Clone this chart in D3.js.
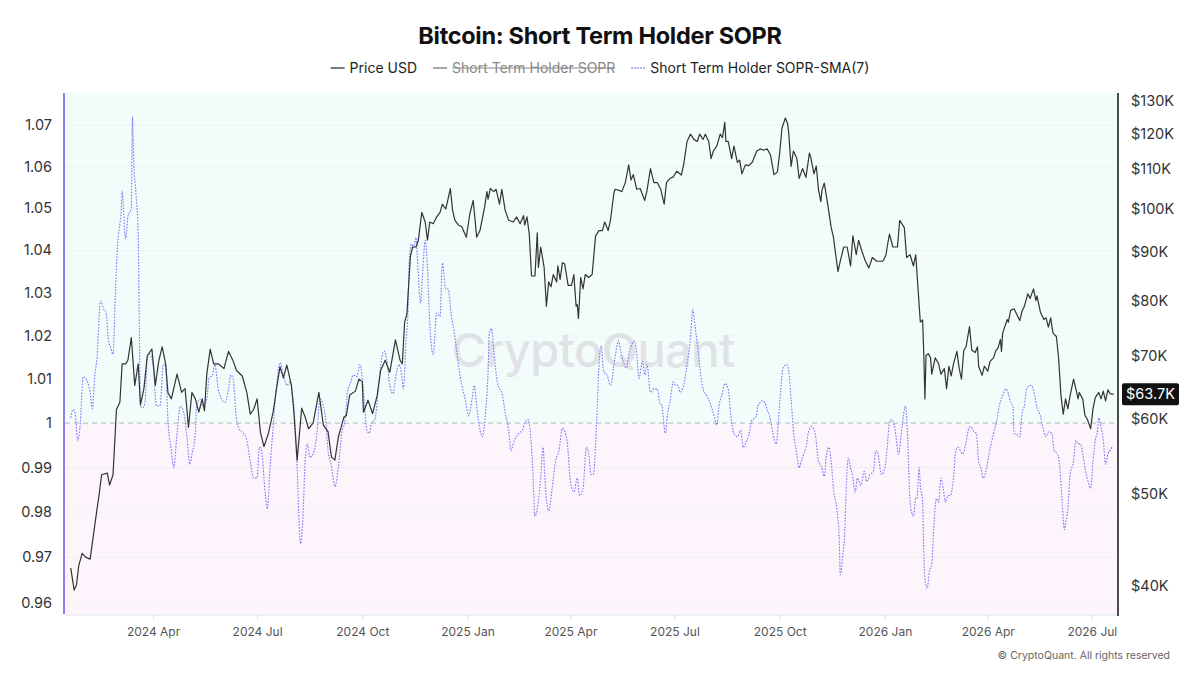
<!DOCTYPE html>
<html><head><meta charset="utf-8">
<script src="https://cdn.jsdelivr.net/npm/d3@7"></script>
<style>
html,body{margin:0;padding:0;background:#fff;}
svg{display:block;font-family:Inter,"Noto Sans",Roboto,sans-serif;}
</style></head>
<body><svg id="chart" width="1200" height="675"></svg>
<script>
// ---------------- DATA ----------------
const startDate = "2024-01-15";
const titleText = "Bitcoin: Short Term Holder SOPR";
const legendLabels = ["Price USD", "Short Term Holder SOPR", "Short Term Holder SOPR-SMA(7)"];
const leftTicks = [0.96,0.97,0.98,0.99,1.00,1.01,1.02,1.03,1.04,1.05,1.06,1.07];
const rightTicks = [40000,50000,60000,70000,80000,90000,100000,110000,120000,130000];
const xTicks = ["2024-04-01","2024-07-01","2024-10-01","2025-01-01","2025-04-01","2025-07-01","2025-10-01","2026-01-01","2026-04-01","2026-07-01"];
const lastPriceLabel = "$63.7K";

// Price USD (thousands) — day offset since startDate
const priceDays = [5,8,10,12,15,18,22,25,28,30,32,37,39,42,45,48,50,53,55,58,61,64,66,69,72,76,79,82,85,88,90,93,98,102,105,108,111,114,117,120,122,124,127,130,134,139,143,147,150,155,159,162,165,168,171,174,178,182,185,188,191,194,198,200,203,207,210,213,217,222,226,230,233,236,239,244,246,249,254,257,260,261,265,269,273,276,280,284,289,293,295,297,299,302,304,307,309,312,315,317,319,322,325,328,330,333,334,337,339,341,344,347,351,354,357,360,363,367,369,370,372,375,377,380,382,385,388,392,395,398,401,402,404,406,408,411,413,414,416,419,421,423,425,427,430,431,433,435,437,440,443,445,447,448,449,451,453,455,458,461,464,467,470,472,475,477,480,481,484,487,490,493,495,497,500,503,507,509,512,515,518,521,524,526,529,532,535,539,541,544,547,550,553,555,558,560,563,565,567,570,573,575,577,578,580,583,585,588,590,592,595,598,601,605,608,611,614,617,620,623,625,627,630,632,633,635,637,640,642,645,648,651,652,655,657,659,661,662,664,667,670,672,674,676,678,681,684,687,689,692,694,697,700,703,706,710,715,716,718,719,721,724,728,730,734,736,739,742,744,746,748,750,751,752,753,755,757,758,761,764,766,769,771,773,775,777,780,782,784,786,788,791,793,796,798,799,802,804,807,809,812,814,816,818,819,820,824,825,827,830,832,835,837,839,842,844,847,849,850,853,856,858,860,862,864,867,869,871,873,875,877,879,882,884,886,887,890,892,894,897,899,901,904,906,908,910,912,914,917];
const priceK = [41.8,39.6,40.1,42.0,43.3,42.9,42.7,45.4,48.2,50.1,52.4,52.6,51.1,52.4,61.4,62.5,68.6,68.6,69.2,73.1,65.1,68.6,62.1,64.6,70.0,71.1,65.1,69.1,71.5,68.6,64.0,63.0,66.9,64.0,64.6,58.8,64.0,63.0,61.0,63.0,61.2,66.9,71.1,68.6,68.6,67.8,70.7,69.1,67.5,66.6,64.0,60.7,61.4,63.0,58.0,56.1,58.0,61.0,64.6,68.1,66.3,68.4,65.1,61.4,54.3,61.6,60.3,58.6,59.4,64.0,59.1,58.2,54.7,54.3,57.4,60.3,60.5,63.6,64.2,66.1,65.7,61.0,62.8,60.8,63.5,67.5,69.2,67.2,72.7,69.2,68.6,75.9,77.4,88.9,91.1,91.1,92.6,99.1,96.8,92.6,96.8,96.4,98.0,99.1,101.1,99.9,101.1,105.0,99.5,97.2,96.1,95.7,93.3,98.7,102.0,93.3,94.9,100.4,104.2,102.3,105.0,104.2,104.8,101.1,104.8,99.5,97.2,96.8,98.0,96.4,98.3,96.1,98.0,94.0,84.9,84.9,94.3,86.7,91.1,86.7,78.9,83.7,82.7,85.2,83.7,87.0,84.2,87.7,87.4,83.0,83.0,85.2,78.9,79.2,76.6,84.6,82.3,85.2,84.6,85.2,93.6,94.8,94.8,96.8,94.8,97.2,103.8,104.8,104.6,104.2,106.5,111.2,107.2,108.6,104.8,105.0,102.0,104.5,110.2,106.5,106.5,104.8,101.1,106.5,107.6,108.0,109.5,108.5,111.2,117.7,119.8,118.3,117.7,119.8,118.3,119.8,117.7,112.9,115.0,116.4,119.8,118.8,123.3,117.7,117.7,112.9,116.4,111.9,112.5,108.8,111.2,111.0,111.9,115.0,115.6,115.2,115.6,113.9,108.6,109.3,114.4,121.6,124.6,122.8,119.8,110.8,115.0,113.0,107.6,110.2,107.9,114.4,113.5,108.8,110.9,104.6,101.7,104.6,106.4,101.1,95.6,93.3,89.4,85.8,88.0,91.1,91.1,87.0,93.6,89.4,92.6,90.1,88.0,86.6,88.8,88.0,88.0,88.3,89.4,91.1,94.0,91.1,91.1,97.2,95.5,88.8,89.4,87.0,89.4,82.3,75.9,76.3,70.5,63.0,70.0,70.3,69.6,66.9,69.6,68.6,66.9,67.8,64.6,68.2,66.6,68.6,70.7,67.8,66.1,70.9,71.5,75.1,70.9,70.5,71.5,68.2,66.7,68.2,67.4,69.0,69.6,70.8,71.3,72.8,70.7,73.9,76.4,75.9,78.1,78.4,77.5,76.2,78.0,78.9,81.3,80.4,82.3,80.0,80.9,77.8,76.4,76.7,75.0,76.7,73.9,73.3,69.4,63.5,60.7,63.0,61.5,63.5,66.1,64.6,63.0,64.0,63.0,60.5,60.0,58.6,61.5,63.2,64.0,63.0,64.2,62.7,64.4,63.8,63.7];

// Short Term Holder SOPR-SMA(7) — day offset since startDate
const smaDays = [5,7,9,11,13,16,19,22,24,26,28,31,34,36,38,40,42,44,46,48,49,50,51,53,54,55,58,59,60,62,64,65,66,68,70,72,74,77,80,83,86,88,90,93,95,98,101,104,107,109,111,114,115,118,121,124,126,129,131,134,137,140,143,145,147,150,153,156,159,162,165,168,170,172,174,177,179,182,185,188,191,194,197,199,201,203,206,208,210,212,214,217,220,223,226,228,230,233,236,239,242,245,247,250,252,255,258,260,262,264,266,268,271,274,277,279,282,284,287,289,292,294,296,298,300,301,303,305,307,308,311,313,315,317,319,322,325,328,330,333,335,338,341,344,347,350,353,356,358,360,363,365,368,370,371,373,375,378,380,382,385,388,390,393,397,400,402,405,407,409,411,413,416,418,420,423,426,429,432,435,439,442,445,448,450,453,456,458,460,462,465,467,469,471,474,477,481,484,486,489,491,493,496,498,500,502,505,507,509,512,515,518,520,522,525,527,529,532,534,536,538,541,544,547,549,551,553,556,558,561,564,567,570,572,575,577,580,582,585,588,591,593,595,598,601,604,606,608,610,612,614,617,619,622,624,626,628,631,633,635,637,640,642,644,646,648,650,653,656,659,662,664,666,668,670,672,675,677,678,680,682,683,685,687,689,691,693,696,699,701,704,707,709,711,714,717,719,721,723,726,729,732,735,737,739,742,744,745,747,748,750,751,752,754,756,758,760,762,764,766,768,770,772,774,777,779,781,783,785,788,790,792,795,797,799,801,803,806,808,810,812,815,817,819,821,823,825,827,829,830,833,835,837,839,841,844,846,848,850,853,855,858,860,863,865,868,870,872,874,875,877,879,882,884,886,888,890,892,894,897,899,901,903,904,906,908,910,912,914,916];
const smaValues = [1.0012,1.0031,1.0020,0.9961,0.9988,1.0106,1.0098,1.0070,1.0033,1.0106,1.0150,1.0281,1.0261,1.0253,1.0189,1.0173,1.0157,1.0293,1.0415,1.0463,1.0488,1.0541,1.0504,1.0427,1.0447,1.0480,1.0500,1.0720,1.0620,1.0537,1.0439,1.0221,1.0039,1.0035,1.0047,1.0150,1.0157,1.0134,1.0039,1.0039,1.0134,1.0134,1.0008,0.9938,0.9899,0.9977,1.0039,1.0023,0.9961,0.9907,0.9930,0.9977,1.0039,1.0055,1.0039,1.0055,1.0102,1.0110,1.0134,1.0078,1.0055,1.0047,1.0078,1.0110,1.0102,1.0008,0.9984,0.9977,0.9961,0.9914,0.9876,0.9876,0.9945,0.9938,0.9876,0.9807,0.9884,0.9992,1.0086,1.0138,1.0110,1.0086,1.0094,1.0063,1.0008,0.9899,0.9730,0.9784,0.9914,0.9953,0.9922,0.9930,0.9969,1.0055,1.0039,1.0008,0.9938,0.9903,0.9857,0.9899,0.9977,1.0008,1.0070,1.0094,1.0110,1.0106,1.0134,1.0102,1.0039,0.9984,0.9977,1.0000,1.0008,1.0078,1.0150,1.0165,1.0134,1.0086,1.0067,1.0102,1.0134,1.0118,1.0078,1.0181,1.0261,1.0374,1.0415,1.0406,1.0430,1.0390,1.0277,1.0358,1.0423,1.0358,1.0229,1.0157,1.0253,1.0245,1.0370,1.0309,1.0309,1.0245,1.0197,1.0134,1.0086,1.0055,1.0016,1.0055,1.0086,1.0039,0.9984,0.9969,1.0031,1.0118,1.0205,1.0217,1.0165,1.0094,1.0078,1.0070,1.0023,0.9984,0.9938,0.9961,0.9977,0.9984,1.0000,1.0008,0.9977,0.9899,0.9791,0.9807,0.9876,0.9945,0.9860,0.9803,0.9853,0.9914,0.9938,0.9988,0.9961,0.9868,0.9845,0.9876,0.9837,0.9853,0.9945,0.9930,0.9884,0.9884,1.0008,1.0134,1.0177,1.0118,1.0110,1.0086,1.0150,1.0189,1.0165,1.0134,1.0126,1.0157,1.0181,1.0189,1.0157,1.0102,1.0142,1.0110,1.0134,1.0070,1.0078,1.0078,1.0047,1.0039,0.9977,1.0023,1.0047,1.0094,1.0086,1.0086,1.0070,1.0086,1.0134,1.0197,1.0261,1.0221,1.0181,1.0110,1.0078,1.0063,1.0047,1.0023,0.9996,1.0039,1.0070,1.0090,1.0078,1.0023,0.9977,0.9969,0.9984,0.9945,0.9953,0.9973,1.0008,1.0012,1.0039,1.0047,1.0051,1.0047,1.0031,1.0008,0.9977,0.9953,1.0008,1.0078,1.0126,1.0134,1.0118,1.0055,0.9984,0.9930,0.9899,0.9914,0.9930,0.9945,0.9977,0.9992,0.9977,0.9914,0.9899,0.9880,0.9930,0.9945,0.9914,0.9853,0.9807,0.9746,0.9662,0.9700,0.9761,0.9837,0.9922,0.9899,0.9876,0.9845,0.9876,0.9860,0.9891,0.9868,0.9884,0.9891,0.9938,0.9930,0.9884,0.9899,0.9945,1.0000,1.0008,0.9984,0.9930,0.9992,1.0039,0.9961,0.9822,0.9791,0.9830,0.9830,0.9899,0.9860,0.9822,0.9715,0.9655,0.9632,0.9670,0.9685,0.9776,0.9830,0.9822,0.9876,0.9853,0.9822,0.9837,0.9837,0.9876,0.9938,0.9945,0.9938,0.9930,0.9957,0.9984,0.9992,0.9980,0.9977,0.9914,0.9899,0.9876,0.9899,0.9930,0.9953,0.9977,1.0008,1.0039,1.0055,1.0070,1.0078,1.0067,1.0047,1.0039,0.9977,0.9973,0.9969,1.0023,1.0039,1.0078,1.0086,1.0082,1.0063,1.0035,1.0016,0.9992,0.9969,0.9980,0.9977,0.9938,0.9930,0.9899,0.9822,0.9761,0.9776,0.9807,0.9884,0.9914,0.9961,0.9953,0.9953,0.9930,0.9899,0.9876,0.9853,0.9914,0.9961,0.9984,1.0012,0.9992,0.9961,0.9907,0.9930,0.9938,0.9949];

// ---------------- CHART ----------------
const W = 1200, H = 675;
const M = {left: 65, right: 1117, top: 93, bottom: 614};
const svg = d3.select("#chart");
const parse = d3.utcParse("%Y-%m-%d");
const t0 = parse(startDate);
const toDate = d => d3.utcDay.offset(t0, d);

const price = priceDays.map((d,i) => ({date: toDate(d), v: priceK[i]*1000}));
const sma = smaDays.map((d,i) => ({date: toDate(d), v: smaValues[i]}));

const x = d3.scaleUtc().domain([t0, d3.utcDay.offset(t0, 920)]).range([M.left, M.right]);
const yL = d3.scaleLog().domain([0.9576, 1.0778]).range([M.bottom, M.top]);
const yR = d3.scaleLog().domain([37370, 132400]).range([M.bottom, M.top]);

// backgrounds
svg.append("rect").attr("x", M.left).attr("y", M.top).attr("width", M.right-M.left)
  .attr("height", yL(1)-M.top).attr("fill", "#f2fdfb");
svg.append("rect").attr("x", M.left).attr("y", yL(1)).attr("width", M.right-M.left)
  .attr("height", M.bottom-yL(1)).attr("fill", "#fdf4fc");

// grid
svg.append("g").selectAll("line").data(leftTicks).join("line")
  .attr("x1", M.left).attr("x2", M.right)
  .attr("y1", d => yL(d)).attr("y2", d => yL(d))
  .attr("stroke", "#e6eeee").attr("stroke-width", 0.6).attr("opacity", d => d === 1 ? 0 : 1);

// watermark
svg.append("text").attr("x", 593).attr("y", 367).attr("text-anchor", "middle")
  .attr("font-size", 47).attr("font-weight", 500).attr("fill", "#dcdce2").attr("opacity", 0.8)
  .attr("letter-spacing", -0.5).text("CryptoQuant");

// dashed line at 1
svg.append("line").attr("x1", M.left).attr("x2", M.right).attr("y1", yL(1)).attr("y2", yL(1))
  .attr("stroke", "#b8b8b8").attr("stroke-width", 1).attr("stroke-dasharray", "5,4");

// left axis
const gL = svg.append("g").attr("transform", `translate(${M.left-1},0)`)
  .call(d3.axisLeft(yL).tickValues(leftTicks).tickSize(0).tickPadding(12)
    .tickFormat(d => String(+d.toFixed(2))));
gL.select(".domain").remove();
gL.selectAll("text").attr("font-size", 14.5).attr("fill", "#333").attr("font-family", "Inter, sans-serif");
svg.append("line").attr("x1", M.left-1).attr("x2", M.left-1).attr("y1", M.top).attr("y2", M.bottom)
  .attr("stroke", "#8b7cf6").attr("stroke-width", 2);

// right axis
const gR = svg.append("g").attr("transform", `translate(${M.right+1},0)`)
  .call(d3.axisRight(yR).tickValues(rightTicks).tickSize(0).tickPadding(13)
    .tickFormat(d => "$" + (d/1000) + "K"));
gR.select(".domain").remove();
gR.selectAll("text").attr("font-size", 14.5).attr("fill", "#333").attr("font-family", "Inter, sans-serif");
svg.append("line").attr("x1", M.right+1).attr("x2", M.right+1).attr("y1", M.top).attr("y2", M.bottom+2)
  .attr("stroke", "#111").attr("stroke-width", 1.5);

// bottom axis
const gX = svg.append("g").attr("transform", `translate(0,${M.bottom+1})`)
  .call(d3.axisBottom(x).tickValues(xTicks.map(parse)).tickSize(5).tickPadding(7)
    .tickFormat(d3.utcFormat("%Y %b")));
gX.select(".domain").attr("stroke", "#dde0ea").attr("d", `M${M.left},0H${M.right}`);
gX.selectAll(".tick line").attr("stroke", "#dde0ea");
gX.selectAll("text").attr("font-size", 12).attr("fill", "#555").attr("font-family", "Inter, sans-serif");

// lines
const clip = svg.append("clipPath").attr("id", "plotclip").append("rect")
  .attr("x", M.left).attr("y", M.top).attr("width", M.right-M.left).attr("height", M.bottom-M.top);
const lines = svg.append("g").attr("clip-path", "url(#plotclip)");
lines.append("path").datum(sma)
  .attr("d", d3.line().x(d => x(d.date)).y(d => yL(d.v)).curve(d3.curveMonotoneX))
  .attr("fill", "none").attr("stroke", "#8176f5").attr("stroke-width", 1.1)
  .attr("stroke-dasharray", "1.6,1.4");
lines.append("path").datum(price)
  .attr("d", d3.line().x(d => x(d.date)).y(d => yR(d.v)))
  .attr("fill", "none").attr("stroke", "#333").attr("stroke-width", 1.2).attr("stroke-linejoin", "round");

// last price label
const lastY = yR(price[price.length-1].v);
svg.append("rect").attr("x", M.right+5).attr("y", lastY-11).attr("width", 57).attr("height", 22)
  .attr("rx", 2).attr("fill", "#111");
svg.append("text").attr("x", M.right+5+28.5).attr("y", lastY+5).attr("text-anchor", "middle")
  .attr("font-size", 14.5).attr("fill", "#fff").text(lastPriceLabel);

// title
svg.append("text").attr("x", 600).attr("y", 44).attr("text-anchor", "middle")
  .attr("font-size", 23.5).attr("font-weight", 700).attr("fill", "#111").attr("letter-spacing", -0.3)
  .text(titleText);

// legend
const leg = svg.append("g");
const legendStyles = [
  {stroke: "#333", dash: null, color: "#222", strike: false},
  {stroke: "#777", dash: null, color: "#888", strike: true},
  {stroke: "#8176f5", dash: "1.5,1.5", color: "#222", strike: false}
];
let cx = 0;
legendLabels.forEach((lab, i) => {
  const g = leg.append("g").attr("transform", `translate(${cx},0)`);
  g.append("line").attr("x1", 0).attr("x2", 14).attr("y1", 0).attr("y2", 0)
    .attr("stroke", legendStyles[i].stroke).attr("stroke-width", 1.3)
    .attr("stroke-dasharray", legendStyles[i].dash);
  const t = g.append("text").attr("x", 19).attr("y", 5).attr("font-size", 14)
    .attr("fill", legendStyles[i].color).text(lab);
  const w = t.node().getComputedTextLength();
  if (legendStyles[i].strike) {
    g.append("line").attr("x1", 19).attr("x2", 19 + w).attr("y1", 0).attr("y2", 0)
      .attr("stroke", "#888").attr("stroke-width", 1);
  }
  cx += 19 + w + 16;
});
const legW = cx - 16;
leg.attr("transform", `translate(${600 - legW/2},68)`);

// copyright
svg.append("text").attr("x", 1170).attr("y", 659).attr("text-anchor", "end")
  .attr("font-size", 10.5).attr("fill", "#666").text("© CryptoQuant. All rights reserved");
</script></body></html>
